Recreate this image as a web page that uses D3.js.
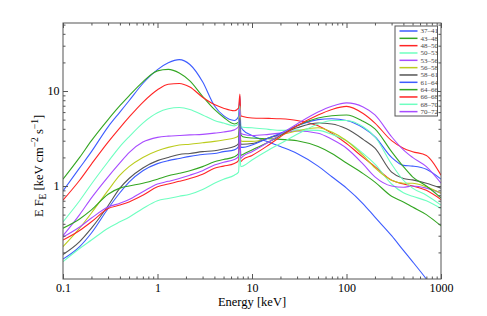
<!DOCTYPE html>
<html>
<head>
<meta charset="utf-8">
<script src="https://cdn.jsdelivr.net/npm/d3@7"></script>
<style>
  body { margin: 0; background: #fff; }
  text { font-family: "Liberation Serif", "DejaVu Serif", serif; }
</style>
</head>
<body>
<svg id="chart" width="487" height="316"></svg>
<script>
// energy grid (keV), shared by all spectra
const energy = [0.1, 0.15, 0.2, 0.3, 0.4, 0.5, 0.7, 1, 1.3, 1.7, 2.2, 3, 4, 5, 6.5, 7.2, 7.45, 7.6, 8,
                10, 15, 20, 30, 50, 70, 100, 150, 200, 300, 400, 500, 700, 1000];

const labels = ["37–41", "43–48", "48–50", "50–53", "53–56", "56–58",
                "58–61", "61–64", "64–66", "66–68", "68–70", "70–72"];

// E F_E in keV cm^-2 s^-1
const f37_41 = [0.89, 1.55, 2.3, 4.2, 6.0, 7.9, 12.0, 16.8, 19.8, 21.4, 19.0, 12.5, 7.0, 5.5, 4.9, 5.4, 8.8, 4.3, 3.9,
                3.4, 2.9, 2.6, 2.2, 1.62, 1.25, 0.95, 0.65, 0.47, 0.3, 0.21, 0.16, 0.105, 0.065];
const f43_48 = [1.18, 2.0, 3.0, 5.0, 7.0, 8.9, 12.5, 16.3, 16.9, 15.5, 12.8, 8.8, 6.4, 5.3, 4.5, 4.7, 7.0, 3.5, 3.3,
                3.2, 3.15, 3.1, 3.0, 2.6, 2.2, 1.75, 1.35, 1.1, 0.78, 0.68, 0.6, 0.5, 0.38];
const f48_50 = [0.71, 1.15, 1.7, 2.9, 4.1, 5.3, 7.6, 10.3, 11.8, 12.0, 11.0, 8.6, 7.2, 6.6, 6.2, 6.6, 9.3, 5.5, 5.4,
                5.2, 5.15, 5.1, 4.9, 4.3, 3.6, 2.8, 2.0, 1.6, 1.15, 1.05, 1.0, 0.9, 0.72];
const f50_53 = [0.42, 0.7, 1.05, 1.8, 2.6, 3.3, 4.6, 5.9, 6.5, 6.7, 6.4, 5.6, 4.9, 4.6, 4.3, 4.5, 7.0, 4.2, 4.15,
                4.1, 3.95, 3.85, 3.9, 3.85, 3.5, 3.0, 2.2, 1.7, 1.05, 0.85, 0.78, 0.7, 0.58];
const f53_56 = [0.3, 0.5, 0.75, 1.25, 1.75, 2.25, 2.9, 3.25, 3.35, 3.4, 3.45, 3.5, 3.6, 3.7, 3.9, 4.2, 6.5, 3.6, 3.5,
                3.4, 3.5, 3.6, 3.8, 3.6, 3.1, 2.5, 1.7, 1.25, 1.0, 0.97, 1.0, 0.95, 0.84];
const f56_58 = [0.23, 0.36, 0.52, 0.9, 1.3, 1.6, 2.0, 2.35, 2.55, 2.7, 2.75, 2.85, 2.95, 3.05, 3.2, 3.4, 5.5, 3.0, 2.95,
                2.95, 3.2, 3.45, 3.8, 4.1, 3.7, 3.0, 2.1, 1.55, 1.15, 1.07, 1.07, 0.98, 0.84];
const f58_61 = [0.19, 0.26, 0.36, 0.62, 0.95, 1.2, 1.55, 1.85, 2.0, 2.15, 2.2, 2.3, 2.35, 2.45, 2.6, 2.8, 5.2, 2.75, 2.75,
                2.8, 3.2, 3.5, 4.1, 4.6, 4.5, 4.0, 3.1, 2.5, 1.4, 1.2, 1.16, 1.07, 0.95];
const f61_64 = [0.17, 0.23, 0.32, 0.58, 0.85, 1.1, 1.45, 1.72, 1.85, 1.95, 2.05, 2.15, 2.2, 2.3, 2.4, 2.6, 5.0, 2.55, 2.55,
                2.7, 3.2, 3.6, 4.3, 5.0, 5.1, 4.9, 4.1, 3.3, 2.0, 1.65, 1.62, 1.5, 1.18];
const f64_66 = [0.36, 0.45, 0.56, 0.82, 0.95, 1.0, 1.07, 1.18, 1.28, 1.36, 1.45, 1.6, 1.8, 1.9, 2.03, 2.2, 4.5, 2.1, 2.15,
                2.4, 2.9, 3.4, 4.3, 5.2, 5.5, 5.6, 4.8, 4.0, 2.3, 1.6, 1.25, 1.0, 0.75];
const f66_68 = [0.27, 0.34, 0.42, 0.58, 0.63, 0.68, 0.8, 0.98, 1.05, 1.12, 1.2, 1.33, 1.54, 1.62, 1.73, 1.85, 3.5, 1.8, 1.9,
                2.1, 2.7, 3.3, 4.3, 5.6, 6.4, 6.9, 5.8, 4.6, 3.0, 2.5, 2.3, 2.1, 1.3];
const f68_70 = [0.16, 0.22, 0.27, 0.36, 0.42, 0.47, 0.58, 0.7, 0.74, 0.78, 0.82, 0.92, 1.07, 1.18, 1.3, 1.4, 2.4, 1.6, 1.62,
                1.88, 2.4, 2.8, 3.5, 4.5, 4.9, 4.9, 4.2, 3.3, 1.7, 1.15, 0.95, 0.8, 0.63];
const f70_72 = [0.29, 0.37, 0.46, 0.6, 0.66, 0.72, 0.87, 1.05, 1.12, 1.2, 1.3, 1.45, 1.66, 1.78, 1.9, 2.05, 4.3, 1.95, 2.05,
                2.3, 2.9, 3.5, 4.5, 6.0, 6.9, 7.5, 6.8, 5.6, 3.3, 2.4, 2.0, 1.6, 1.07];

const fluxes = [f37_41, f43_48, f48_50, f50_53, f53_56, f56_58, f58_61, f61_64, f64_66, f66_68, f68_70, f70_72];

const xMajor = [0.1, 1, 10, 100, 1000];
const xTickLabels = ["0.1", "1", "10", "100", "1000"];
const yMajor = [1, 10];
const yTickLabels = ["1", "10"];

const colors = ["#3d5cff", "#33a622", "#ff2525", "#6effc0", "#a84cff", "#bccc1e",
                "#555555", "#3d5cff", "#33a622", "#ff2525", "#6effc0", "#a84cff"];

const width = 487, height = 316;
const margin = {top: 23, right: 46, bottom: 37, left: 63};

const svg = d3.select("#chart");

const x = d3.scaleLog().domain([0.1, 1000]).range([margin.left, width - margin.right]);
const y = d3.scaleLog().domain([0.105, 52]).range([height - margin.bottom, margin.top]);

const xMinor = x.ticks().filter(v => !xMajor.some(m => Math.abs(m - v) < 1e-9));
const yMinor = y.ticks().filter(v => !yMajor.some(m => Math.abs(m - v) < 1e-9));

svg.append("clipPath").attr("id", "plot")
  .append("rect")
  .attr("x", margin.left).attr("y", margin.top)
  .attr("width", width - margin.left - margin.right)
  .attr("height", height - margin.top - margin.bottom);

// spectra
const line = d3.line()
  .x(d => x(d[0]))
  .y(d => y(d[1]))
  .curve(d3.curveMonotoneX);

svg.append("g").attr("clip-path", "url(#plot)")
  .selectAll("path")
  .data(fluxes)
  .join("path")
  .attr("fill", "none")
  .attr("stroke", (d, i) => colors[i])
  .attr("stroke-width", 1.1)
  .attr("d", d => line(energy.map((e, j) => [e, d[j]])));

// axes, ticks pointing inward on all four sides
function styleAxis(g) {
  g.select(".domain").remove();
  g.selectAll(".tick line").attr("stroke", "#555");
  g.selectAll(".tick text").attr("fill", "#000").style("font-size", "12px")
    .style("font-family", '"Liberation Serif", serif');
}

const yBottom = height - margin.bottom, yTop = margin.top;
const xLeft = margin.left, xRight = width - margin.right;

svg.append("g").attr("transform", `translate(0,${yBottom})`)
  .call(d3.axisBottom(x).tickValues(xMajor).tickSize(-5).tickPadding(4.5)
    .tickFormat((d, i) => xTickLabels[i]))
  .call(styleAxis);
svg.append("g").attr("transform", `translate(0,${yBottom})`)
  .call(d3.axisBottom(x).tickValues(xMinor).tickSize(-2.5).tickFormat(""))
  .call(styleAxis);
svg.append("g").attr("transform", `translate(0,${yTop})`)
  .call(d3.axisTop(x).tickValues(xMajor).tickSize(-5).tickFormat(""))
  .call(styleAxis);
svg.append("g").attr("transform", `translate(0,${yTop})`)
  .call(d3.axisTop(x).tickValues(xMinor).tickSize(-2.5).tickFormat(""))
  .call(styleAxis);

svg.append("g").attr("transform", `translate(${xLeft},0)`)
  .call(d3.axisLeft(y).tickValues(yMajor).tickSize(-5).tickPadding(3.5)
    .tickFormat((d, i) => yTickLabels[i]))
  .call(styleAxis);
svg.append("g").attr("transform", `translate(${xLeft},0)`)
  .call(d3.axisLeft(y).tickValues(yMinor).tickSize(-2.5).tickFormat(""))
  .call(styleAxis);
svg.append("g").attr("transform", `translate(${xRight},0)`)
  .call(d3.axisRight(y).tickValues(yMajor).tickSize(-5).tickFormat(""))
  .call(styleAxis);
svg.append("g").attr("transform", `translate(${xRight},0)`)
  .call(d3.axisRight(y).tickValues(yMinor).tickSize(-2.5).tickFormat(""))
  .call(styleAxis);

svg.append("rect")
  .attr("x", xLeft).attr("y", yTop)
  .attr("width", xRight - xLeft).attr("height", yBottom - yTop)
  .attr("fill", "none").attr("stroke", "#555").attr("stroke-width", 1);

// axis titles
svg.append("text")
  .attr("x", (xLeft + xRight) / 2).attr("y", 306)
  .attr("text-anchor", "middle")
  .style("font-size", "12.5px")
  .text("Energy [keV]");

const yl = svg.append("text")
  .attr("transform", "translate(42.5,166) rotate(-90)")
  .attr("text-anchor", "middle")
  .style("font-size", "12.5px");
yl.append("tspan").text("E F");
yl.append("tspan").attr("dy", 3.5).style("font-size", "9.5px").text("E");
yl.append("tspan").attr("dy", -3.5).text(" [keV cm");
yl.append("tspan").attr("dy", -5).style("font-size", "9.5px").text("−2");
yl.append("tspan").attr("dy", 5).text(" s");
yl.append("tspan").attr("dy", -5).style("font-size", "9.5px").text("−1");
yl.append("tspan").attr("dy", 5).text("]");

// legend
const legend = svg.append("g");
legend.append("rect")
  .attr("x", 395).attr("y", 26).attr("width", 42.5).attr("height", 90)
  .attr("fill", "#fff").attr("stroke", "#555").attr("stroke-width", 1);

const item = legend.selectAll("g.item")
  .data(labels)
  .join("g")
  .attr("class", "item")
  .attr("transform", (d, i) => `translate(0,${31 + i * 7.33})`);
item.append("line")
  .attr("x1", 399.5).attr("x2", 417.5)
  .attr("stroke", (d, i) => colors[i])
  .attr("stroke-width", 1.5);
item.append("text")
  .attr("x", 420.5).attr("y", 2.4)
  .style("font-size", "7px")
  .attr("fill", "#444")
  .text(d => d);
</script>
</body>
</html>
